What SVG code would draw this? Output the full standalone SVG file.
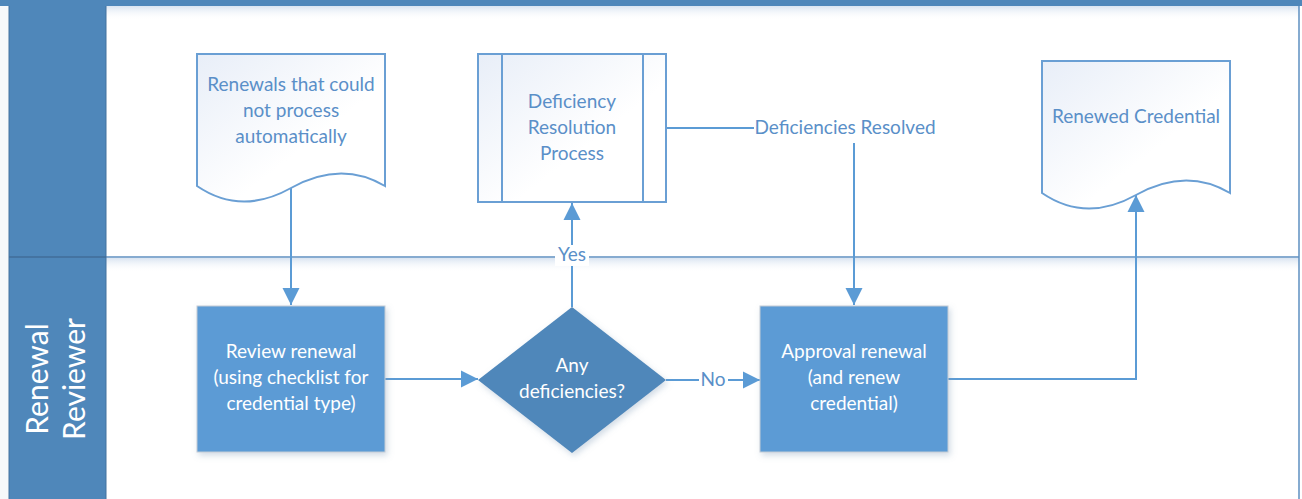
<svg xmlns="http://www.w3.org/2000/svg" width="1302" height="499" viewBox="0 0 1302 499">
  <defs>
    <style>
      .lane-head { fill: #4f87ba; }
      .lane-line { stroke: #5e8fc0; stroke-width: 1.5; fill: none; }
      .doc { fill: url(#docFill); stroke: #6a9fd4; stroke-width: 2; }
      .doc-text { font-family: Lato, "Open Sans", sans-serif; font-size: 19px; fill: #5a8fc8; text-anchor: middle; }
      .proc { fill: #5b9bd5; stroke: #c3ccd6; stroke-width: 1; filter: url(#shadow); }
      .decision { fill: #4f87ba; filter: url(#shadow); }
      .proc-text { font-family: Lato, "Open Sans", sans-serif; font-size: 19px; fill: #ffffff; text-anchor: middle; }
      .conn { stroke: #5b9bd5; stroke-width: 2; fill: none; }
      .conn-label { font-family: Lato, "Open Sans", sans-serif; font-size: 19px; fill: #5a8fc8; text-anchor: middle; }
      .lane-title { font-family: Lato, "Open Sans", sans-serif; font-size: 30px; fill: #ffffff; text-anchor: middle; }
    </style>
    <linearGradient id="docFill" x1="0" y1="0" x2="1" y2="1">
      <stop offset="0" stop-color="#e8eef8"/>
      <stop offset="0.6" stop-color="#ffffff"/>
    </linearGradient>
    <linearGradient id="laneShade" x1="0" y1="0" x2="0" y2="1">
      <stop offset="0" stop-color="#d9e4f1"/>
      <stop offset="1" stop-color="#ffffff" stop-opacity="0"/>
    </linearGradient>
    <filter id="shadow" x="-10%" y="-10%" width="125%" height="125%">
      <feDropShadow dx="2" dy="3" stdDeviation="3" flood-color="#7c97b5" flood-opacity="0.35"/>
    </filter>
    <marker id="arrow" markerUnits="userSpaceOnUse" markerWidth="18" markerHeight="18" refX="17" refY="9" orient="auto">
      <path d="M0,0.5 L17,9 L0,17.5 Z" fill="#5b9bd5"/>
    </marker>
  </defs>

  <!-- page and swimlane frame -->
  <rect x="0" y="0" width="1302" height="499" fill="#ffffff"/>
  <rect x="0" y="6" width="9" height="493" fill="#f6f8fa"/>
  <rect x="0" y="0" width="1302" height="6" class="lane-head"/>
  <rect x="9" y="6" width="97" height="493" class="lane-head"/>
  <rect x="106" y="6" width="1193" height="14" fill="url(#laneShade)"/>
  <rect x="106" y="258" width="1193" height="14" fill="url(#laneShade)"/>
  <line x1="9" y1="257" x2="1299" y2="257" class="lane-line"/>
  <line x1="1299" y1="6" x2="1299" y2="499" class="lane-line"/>
  <line x1="106" y1="6" x2="106" y2="499" stroke="#44739f" stroke-width="1"/>
  <line x1="9" y1="6" x2="9" y2="499" stroke="#44739f" stroke-width="1"/>
  <line x1="9" y1="257" x2="106" y2="257" stroke="#3e6b97" stroke-width="1.5"/>
  <text class="lane-title" transform="translate(57,379) rotate(-90)"><tspan x="0" y="-9">Renewal</tspan><tspan x="0" y="28">Reviewer</tspan></text>

  <!-- connectors -->
  <g id="connectors">
    <path class="conn" d="M291,188 V305" marker-end="url(#arrow)"/>
    <path class="conn" d="M385,379 H478" marker-end="url(#arrow)"/>
    <path class="conn" d="M572,307 V203" marker-end="url(#arrow)"/>
    <path class="conn" d="M666,128 H854 V305" marker-end="url(#arrow)"/>
    <path class="conn" d="M666,380 H760" marker-end="url(#arrow)"/>
    <path class="conn" d="M948,379 H1136 V195" marker-end="url(#arrow)"/>
    <rect x="555" y="245" width="34" height="21" fill="#ffffff"/>
    <text class="conn-label" x="572" y="261">Yes</text>
    <rect x="699" y="369" width="29" height="21" fill="#ffffff"/>
    <text class="conn-label" x="713" y="386">No</text>
    <rect x="754" y="116" width="182" height="27" fill="#ffffff"/>
    <text class="conn-label" x="845" y="134">Deficiencies Resolved</text>
  </g>

  <!-- nodes -->
  <g id="doc-renewals">
    <path class="doc" d="M197,54 H385 V186 Q341,160 291,188 Q241,216 197,186 Z"/>
    <text class="doc-text" x="291" y="91">Renewals that could</text>
    <text class="doc-text" x="291" y="117">not process</text>
    <text class="doc-text" x="291" y="143">automatically</text>
  </g>

  <g id="subprocess-deficiency">
    <rect class="doc" x="478" y="54" width="188" height="148"/>
    <line x1="502" y1="54" x2="502" y2="202" stroke="#6a9fd4" stroke-width="2"/>
    <line x1="643" y1="54" x2="643" y2="202" stroke="#6a9fd4" stroke-width="2"/>
    <text class="doc-text" x="572" y="108">Deficiency</text>
    <text class="doc-text" x="572" y="134">Resolution</text>
    <text class="doc-text" x="572" y="160">Process</text>
  </g>

  <g id="doc-renewed">
    <path class="doc" d="M1042,61 H1230 V193 Q1186,167 1136,195 Q1086,223 1042,193 Z"/>
    <text class="doc-text" x="1136" y="123">Renewed Credential</text>
  </g>

  <g id="proc-review">
    <rect class="proc" x="197" y="306" width="188" height="146"/>
    <text class="proc-text" x="291" y="358">Review renewal</text>
    <text class="proc-text" x="291" y="384">(using checklist for</text>
    <text class="proc-text" x="291" y="410">credential type)</text>
  </g>

  <g id="decision-deficiencies">
    <path class="decision" d="M572,307 L666,380 L572,453 L478,380 Z"/>
    <text class="proc-text" x="572" y="372">Any</text>
    <text class="proc-text" x="572" y="398">deficiencies?</text>
  </g>

  <g id="proc-approval">
    <rect class="proc" x="760" y="306" width="188" height="146"/>
    <text class="proc-text" x="854" y="358">Approval renewal</text>
    <text class="proc-text" x="854" y="384">(and renew</text>
    <text class="proc-text" x="854" y="410">credential)</text>
  </g>
</svg>
